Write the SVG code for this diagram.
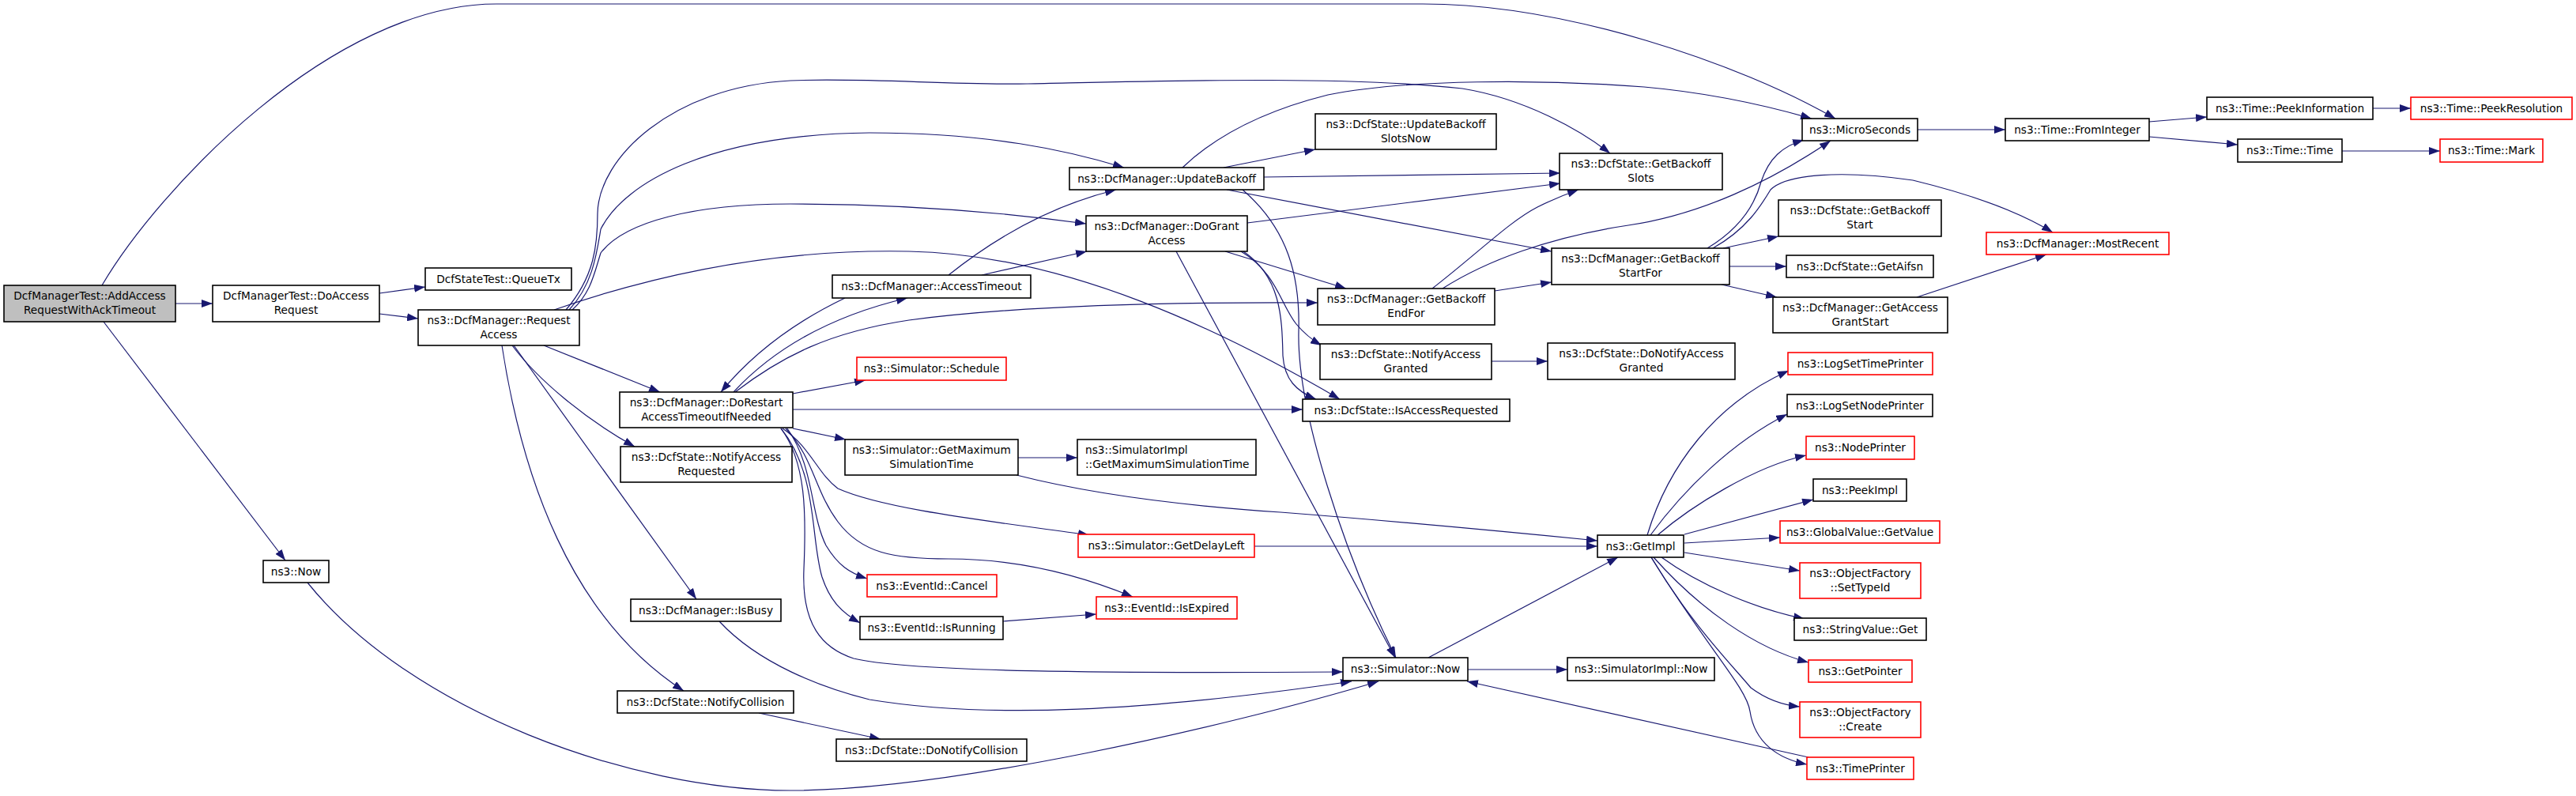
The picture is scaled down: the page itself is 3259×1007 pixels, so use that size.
<svg xmlns="http://www.w3.org/2000/svg" width="3259" height="1007" viewBox="0 0 3259 1007">
<style>
.n rect{fill:#fff;stroke:#000;stroke-width:1.6}
.n.r rect{stroke:#f00}
.n.root rect{fill:#bfbfbf}
text{font-family:"DejaVu Sans","Liberation Sans",sans-serif;font-size:13.7px;text-anchor:middle;fill:#000}
text.l{text-anchor:start}
#edges path{fill:none;stroke:#191970;stroke-width:1.2;marker-end:url(#a)}
</style>
<defs>
<marker id="a" markerUnits="userSpaceOnUse" markerWidth="14" markerHeight="10" refX="14" refY="5" orient="auto">
<path d="M0,0 L14,5 L0,10 z" fill="#191970"/>
</marker>
</defs>
<rect width="3259" height="1007" fill="#fff"/>
<g id="edges">
<path d="M222,384 L269,384"/>
<path d="M129,361 C200,240 420,5 628,5 L1800,5 C1980,5 2200,80 2322,150"/>
<path d="M131,407 L361,709"/>
<path d="M480,371 L538,363"/>
<path d="M480,397 L529,403"/>
<path d="M701,392 C850,340 1000,315 1150,318 C1350,322 1550,420 1695,505"/>
<path d="M716,392 C752,350 756,310 756,270 C757,200 850,110 1000,102 C1100,98 1200,108 1300,106 C1450,103 1700,95 1850,112 C1930,125 2000,165 2037,194"/>
<path d="M720,392 C750,360 755,320 760,290 C790,230 900,170 1100,168 C1250,168 1350,190 1422,212"/>
<path d="M724,392 C748,370 752,345 760,320 C790,280 880,258 1000,258 C1150,258 1280,270 1374,283"/>
<path d="M688,437 L835,496"/>
<path d="M648,437 C680,480 740,530 803,565"/>
<path d="M650,437 L881,758"/>
<path d="M635,437 C660,600 720,780 865,874"/>
<path d="M389,737 C520,900 800,1000 1000,1000 C1200,1000 1550,920 1744,862"/>
<path d="M910,786 C960,840 1040,870 1100,885 C1250,910 1450,900 1710,862"/>
<path d="M988,542 C1020,585 1020,650 1017,720 C1014,790 1040,820 1080,833 C1150,850 1400,852 1699,850"/>
<path d="M1488,318 L1765,832"/>
<path d="M1572,240 C1630,290 1645,350 1643,420 C1641,520 1700,700 1766,832"/>
<path d="M1550,318 L1703,365"/>
<path d="M1570,318 C1615,345 1620,385 1640,410 C1650,422 1660,430 1672,437"/>
<path d="M1573,318 C1620,350 1622,400 1623,450 C1625,480 1640,495 1665,505"/>
<path d="M1578,282 L1974,232"/>
<path d="M1599,224 L1974,219"/>
<path d="M1552,240 L1963,318"/>
<path d="M1496,212 C1540,170 1600,140 1680,120 C1780,100 1950,100 2080,110 C2170,118 2240,135 2292,150"/>
<path d="M1548,212 L1664,189"/>
<path d="M930,496 C990,450 1050,420 1150,405 C1300,385 1500,382 1667,383"/>
<path d="M1200,348 C1260,300 1330,260 1412,240"/>
<path d="M1242,348 L1375,318"/>
<path d="M1069,377 C1000,410 950,450 912,496"/>
<path d="M928,496 C980,440 1050,400 1148,377"/>
<path d="M1003,498 L1095,481"/>
<path d="M1003,518 L1648,518"/>
<path d="M1003,542 L1070,556"/>
<path d="M1288,579 L1363,579"/>
<path d="M1286,601 C1380,625 1500,640 1620,648 C1800,662 1900,672 2021,684"/>
<path d="M990,542 C1025,565 1035,600 1060,618 C1120,645 1260,660 1378,677"/>
<path d="M994,542 C1030,580 1030,620 1060,660 C1090,700 1130,707 1200,707 C1280,707 1360,725 1433,755"/>
<path d="M996,542 C1030,590 1025,650 1045,690 C1060,715 1075,725 1097,732"/>
<path d="M988,542 C1035,600 1025,680 1040,730 C1050,760 1065,775 1088,788"/>
<path d="M1269,786 L1387,777"/>
<path d="M1587,691 L2021,691"/>
<path d="M960,902 L1114,935"/>
<path d="M1887,457 L1958,457"/>
<path d="M1812,365 C1870,320 1910,280 1945,262 C1965,252 1980,246 1997,240"/>
<path d="M1825,365 C1880,330 1960,300 2060,285 C2150,272 2240,230 2316,178"/>
<path d="M1891,368 L1963,357"/>
<path d="M2160,314 C2200,290 2220,260 2228,230 C2238,200 2255,185 2282,177"/>
<path d="M2167,314 C2210,290 2228,260 2240,240 C2260,220 2330,215 2420,228 C2490,245 2550,265 2597,294"/>
<path d="M2180,314 L2250,299"/>
<path d="M2188,337 L2260,337"/>
<path d="M2178,360 L2248,376"/>
<path d="M2425,376 L2589,322"/>
<path d="M2426,164 L2537,164"/>
<path d="M2719,154 L2792,148"/>
<path d="M2719,173 L2831,183"/>
<path d="M3002,137 L3050,137"/>
<path d="M2963,191 L3087,191"/>
<path d="M1807,832 L2047,705"/>
<path d="M1857,847 L1983,847"/>
<path d="M2288,958 L1856,862"/>
<path d="M2084,677 C2110,590 2170,510 2263,469"/>
<path d="M2088,677 C2130,620 2190,560 2261,524"/>
<path d="M2097,677 C2140,640 2220,590 2285,576"/>
<path d="M2131,676 L2294,632"/>
<path d="M2131,687 L2252,680"/>
<path d="M2131,699 L2277,722"/>
<path d="M2102,705 C2150,740 2220,770 2283,783"/>
<path d="M2092,705 C2150,770 2220,820 2288,838"/>
<path d="M2089,705 C2140,790 2190,840 2215,870 C2235,885 2255,892 2277,894"/>
<path d="M2089,705 C2160,820 2210,870 2214,900 C2220,940 2250,960 2286,967"/>
</g>
<g id="root" class="n root"><rect x="5" y="361" width="217" height="46"/><text x="113.5" y="379">DcfManagerTest::AddAccess</text><text x="113.5" y="397">RequestWithAckTimeout</text></g>
<g id="doAccessRequest" class="n"><rect x="269" y="361" width="211" height="46"/><text x="374.5" y="379">DcfManagerTest::DoAccess</text><text x="374.5" y="397">Request</text></g>
<g id="queueTx" class="n"><rect x="538" y="339" width="185" height="28"/><text x="630.5" y="358">DcfStateTest::QueueTx</text></g>
<g id="requestAccess" class="n"><rect x="529" y="392" width="204" height="45"/><text x="631" y="410">ns3::DcfManager::Request</text><text x="631" y="428">Access</text></g>
<g id="now" class="n"><rect x="333" y="709" width="83" height="28"/><text x="374.5" y="728">ns3::Now</text></g>
<g id="accessTimeout" class="n"><rect x="1053" y="348" width="251" height="29"/><text x="1178.5" y="367">ns3::DcfManager::AccessTimeout</text></g>
<g id="doRestart" class="n"><rect x="784" y="496" width="219" height="45"/><text x="893.5" y="514">ns3::DcfManager::DoRestart</text><text x="893.5" y="532">AccessTimeoutIfNeeded</text></g>
<g id="notifyAccessRequested" class="n"><rect x="785" y="565" width="217" height="45"/><text x="893.5" y="583">ns3::DcfState::NotifyAccess</text><text x="893.5" y="601">Requested</text></g>
<g id="isBusy" class="n"><rect x="798" y="758" width="190" height="28"/><text x="893" y="777">ns3::DcfManager::IsBusy</text></g>
<g id="notifyCollision" class="n"><rect x="781" y="874" width="223" height="28"/><text x="892.5" y="893">ns3::DcfState::NotifyCollision</text></g>
<g id="schedule" class="n r"><rect x="1084" y="452" width="189" height="29"/><text x="1178.5" y="471">ns3::Simulator::Schedule</text></g>
<g id="getMaximumSimulationTime" class="n"><rect x="1069" y="556" width="219" height="45"/><text x="1178.5" y="574">ns3::Simulator::GetMaximum</text><text x="1178.5" y="592">SimulationTime</text></g>
<g id="cancel" class="n r"><rect x="1097" y="727" width="164" height="28"/><text x="1179" y="746">ns3::EventId::Cancel</text></g>
<g id="isRunning" class="n"><rect x="1088" y="780" width="181" height="29"/><text x="1178.5" y="799">ns3::EventId::IsRunning</text></g>
<g id="doNotifyCollision" class="n"><rect x="1058" y="935" width="241" height="28"/><text x="1178.5" y="954">ns3::DcfState::DoNotifyCollision</text></g>
<g id="updateBackoff" class="n"><rect x="1353" y="212" width="246" height="28"/><text x="1476" y="231">ns3::DcfManager::UpdateBackoff</text></g>
<g id="doGrantAccess" class="n"><rect x="1374" y="273" width="204" height="45"/><text x="1476" y="291">ns3::DcfManager::DoGrant</text><text x="1476" y="309">Access</text></g>
<g id="simImplGetMaximumSimulationTime" class="n"><rect x="1363" y="556" width="226" height="45"/><text class="l" x="1373" y="574">ns3::SimulatorImpl</text><text class="l" x="1373" y="592">::GetMaximumSimulationTime</text></g>
<g id="getDelayLeft" class="n r"><rect x="1364" y="676" width="223" height="29"/><text x="1475.5" y="695">ns3::Simulator::GetDelayLeft</text></g>
<g id="isExpired" class="n r"><rect x="1387" y="755" width="178" height="28"/><text x="1476" y="774">ns3::EventId::IsExpired</text></g>
<g id="updateBackoffSlotsNow" class="n"><rect x="1664" y="144" width="229" height="45"/><text x="1778.5" y="162">ns3::DcfState::UpdateBackoff</text><text x="1778.5" y="180">SlotsNow</text></g>
<g id="getBackoffEndFor" class="n"><rect x="1667" y="365" width="224" height="46"/><text x="1779" y="383">ns3::DcfManager::GetBackoff</text><text x="1779" y="401">EndFor</text></g>
<g id="notifyAccessGranted" class="n"><rect x="1670" y="435" width="217" height="45"/><text x="1778.5" y="453">ns3::DcfState::NotifyAccess</text><text x="1778.5" y="471">Granted</text></g>
<g id="isAccessRequested" class="n"><rect x="1648" y="505" width="262" height="28"/><text x="1779" y="524">ns3::DcfState::IsAccessRequested</text></g>
<g id="simulatorNow" class="n"><rect x="1699" y="832" width="158" height="29"/><text x="1778" y="851">ns3::Simulator::Now</text></g>
<g id="getBackoffSlots" class="n"><rect x="1973" y="194" width="206" height="46"/><text x="2076" y="212">ns3::DcfState::GetBackoff</text><text x="2076" y="230">Slots</text></g>
<g id="getBackoffStartFor" class="n"><rect x="1963" y="314" width="225" height="46"/><text x="2075.5" y="332">ns3::DcfManager::GetBackoff</text><text x="2075.5" y="350">StartFor</text></g>
<g id="doNotifyAccessGranted" class="n"><rect x="1958" y="434" width="237" height="46"/><text x="2076.5" y="452">ns3::DcfState::DoNotifyAccess</text><text x="2076.5" y="470">Granted</text></g>
<g id="simImplNow" class="n"><rect x="1983" y="832" width="186" height="29"/><text x="2076" y="851">ns3::SimulatorImpl::Now</text></g>
<g id="getImpl" class="n"><rect x="2021" y="677" width="109" height="28"/><text x="2075.5" y="696">ns3::GetImpl</text></g>
<g id="microSeconds" class="n"><rect x="2280" y="150" width="146" height="28"/><text x="2353" y="169">ns3::MicroSeconds</text></g>
<g id="getBackoffStart" class="n"><rect x="2250" y="253" width="206" height="46"/><text x="2353" y="271">ns3::DcfState::GetBackoff</text><text x="2353" y="289">Start</text></g>
<g id="getAifsn" class="n"><rect x="2260" y="323" width="186" height="28"/><text x="2353" y="342">ns3::DcfState::GetAifsn</text></g>
<g id="getAccessGrantStart" class="n"><rect x="2243" y="376" width="221" height="45"/><text x="2353.5" y="394">ns3::DcfManager::GetAccess</text><text x="2353.5" y="412">GrantStart</text></g>
<g id="logSetTimePrinter" class="n r"><rect x="2262" y="446" width="183" height="28"/><text x="2353.5" y="465">ns3::LogSetTimePrinter</text></g>
<g id="logSetNodePrinter" class="n"><rect x="2261" y="499" width="184" height="28"/><text x="2353" y="518">ns3::LogSetNodePrinter</text></g>
<g id="nodePrinter" class="n r"><rect x="2285" y="552" width="137" height="29"/><text x="2353.5" y="571">ns3::NodePrinter</text></g>
<g id="peekImpl" class="n"><rect x="2294" y="606" width="118" height="28"/><text x="2353" y="625">ns3::PeekImpl</text></g>
<g id="globalValueGetValue" class="n r"><rect x="2252" y="659" width="202" height="28"/><text x="2353" y="678">ns3::GlobalValue::GetValue</text></g>
<g id="objectFactorySetTypeId" class="n r"><rect x="2277" y="712" width="153" height="45"/><text x="2353.5" y="730">ns3::ObjectFactory</text><text x="2353.5" y="748">::SetTypeId</text></g>
<g id="stringValueGet" class="n"><rect x="2270" y="782" width="167" height="28"/><text x="2353.5" y="801">ns3::StringValue::Get</text></g>
<g id="getPointer" class="n r"><rect x="2288" y="835" width="131" height="28"/><text x="2353.5" y="854">ns3::GetPointer</text></g>
<g id="objectFactoryCreate" class="n r"><rect x="2277" y="888" width="153" height="45"/><text x="2353.5" y="906">ns3::ObjectFactory</text><text x="2353.5" y="924">::Create</text></g>
<g id="timePrinter" class="n r"><rect x="2286" y="958" width="135" height="28"/><text x="2353.5" y="977">ns3::TimePrinter</text></g>
<g id="mostRecent" class="n r"><rect x="2513" y="294" width="231" height="28"/><text x="2628.5" y="313">ns3::DcfManager::MostRecent</text></g>
<g id="fromInteger" class="n"><rect x="2537" y="150" width="182" height="28"/><text x="2628" y="169">ns3::Time::FromInteger</text></g>
<g id="peekInformation" class="n"><rect x="2792" y="123" width="210" height="28"/><text x="2897" y="142">ns3::Time::PeekInformation</text></g>
<g id="peekResolution" class="n r"><rect x="3050" y="123" width="204" height="28"/><text x="3152" y="142">ns3::Time::PeekResolution</text></g>
<g id="timeTime" class="n"><rect x="2831" y="176" width="132" height="29"/><text x="2897" y="195">ns3::Time::Time</text></g>
<g id="timeMark" class="n r"><rect x="3087" y="176" width="130" height="29"/><text x="3152" y="195">ns3::Time::Mark</text></g>
</svg>
